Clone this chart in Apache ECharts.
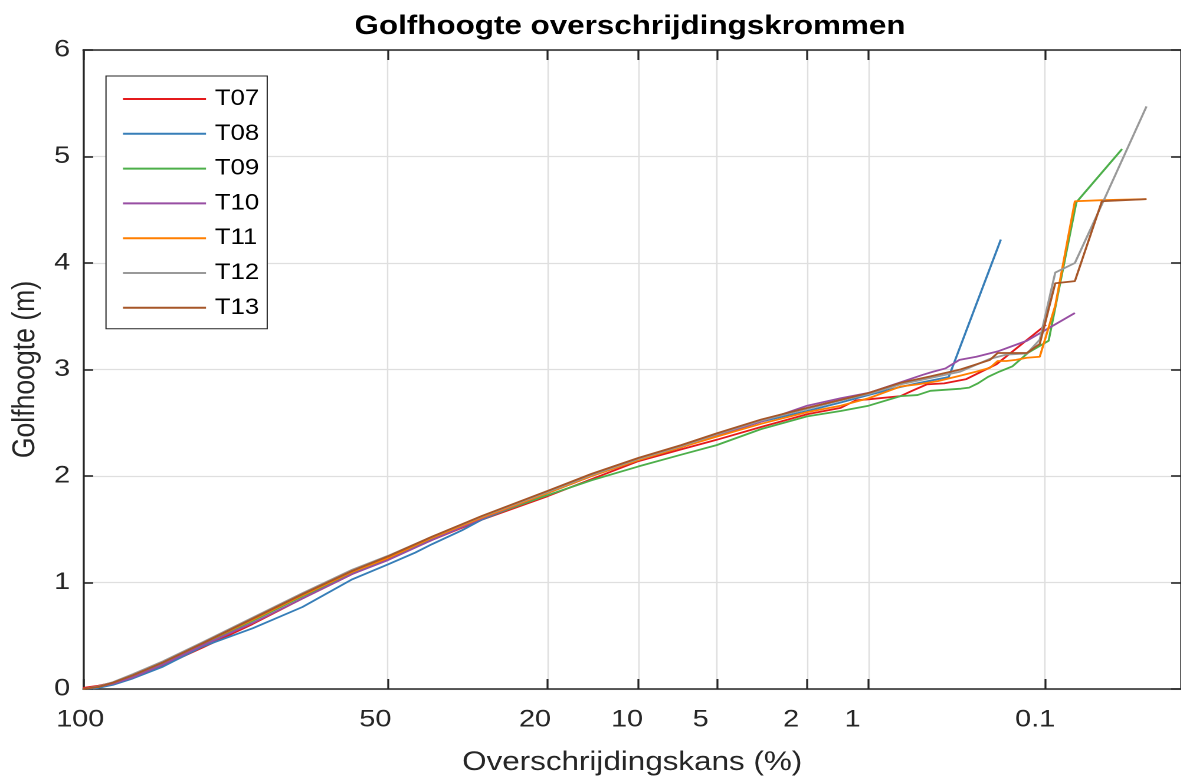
<!DOCTYPE html>
<html>
<head>
<meta charset="utf-8">
<title>Golfhoogte overschrijdingskrommen</title>
<script src="https://cdn.jsdelivr.net/npm/echarts@6/dist/echarts.min.js"></script>
<style>
  html, body { margin: 0; padding: 0; background: #ffffff; overflow: hidden; }
  #stage { width: 1181px; height: 781px; overflow: hidden; }
  /* the figure is laid out narrow and widened with a horizontal stretch */
  #chart { height: 781px; transform-origin: 0 0; }
</style>
</head>
<body>
<div id="stage"><div id="chart"></div></div>
<script>
// Exceedance probability axis (Rayleigh paper): ticks in percent
const tickPercents = [100, 50, 20, 10, 5, 2, 1, 0.1];
const tickLabels = ['100', '50', '20', '10', '5', '2', '1', '0.1'];

const seriesNames = ['T07', 'T08', 'T09', 'T10', 'T11', 'T12', 'T13'];
const seriesColors = ['#E41A1C', '#377EB8', '#4DAF4A', '#984EA3', '#FF7F00', '#999999', '#A65628'];

// [exceedance probability (%), wave height (m)]
const T07 = [[100,0.01],[99.83,0.03],[99.33,0.06],[98.16,0.12],[95.36,0.22],[89.87,0.39],[80.71,0.61],[69.84,0.85],[58.24,1.08],[50,1.22],[40.31,1.40],[30.52,1.59],[20,1.81],[14.53,1.97],[10,2.14],[6.93,2.25],[5,2.34],[3.24,2.46],[2,2.58],[1.38,2.64],[1.162,2.71],[1,2.72],[0.683,2.75],[0.5922,2.80],[0.4935,2.86],[0.3948,2.87],[0.2961,2.91],[0.1974,3.05],[0.0987,3.42]];
const T08 = [[100,0.0],[99.83,0.01],[99.33,0.04],[98.16,0.10],[95.36,0.21],[89.87,0.40],[80.71,0.57],[69.84,0.77],[58.24,1.03],[50,1.17],[43.94,1.28],[40.31,1.36],[34.27,1.49],[30.52,1.59],[20,1.84],[14.53,2.0],[10,2.15],[6.93,2.27],[5,2.38],[3.24,2.51],[2,2.61],[1.38,2.69],[1,2.76],[0.7448,2.82],[0.5586,2.87],[0.3724,2.93],[0.1862,4.22]];
const T09 = [[100,0.0],[99.83,0.02],[99.33,0.05],[98.16,0.12],[95.36,0.24],[89.87,0.42],[80.71,0.64],[69.84,0.87],[58.24,1.09],[50,1.23],[40.31,1.41],[30.52,1.60],[20,1.82],[14.53,1.96],[10,2.09],[6.93,2.20],[5,2.29],[3.24,2.44],[2,2.56],[1.38,2.61],[1,2.66],[0.683,2.75],[0.554,2.76],[0.471,2.80],[0.317,2.82],[0.2853,2.83],[0.2536,2.87],[0.2219,2.93],[0.1902,2.98],[0.1585,3.03],[0.1268,3.16],[0.0951,3.27],[0.0634,4.57],[0.0317,5.07]];
const T10 = [[100,0.0],[99.83,0.02],[99.33,0.05],[98.16,0.11],[95.36,0.23],[89.87,0.41],[80.71,0.62],[69.84,0.85],[58.24,1.08],[50,1.21],[40.31,1.40],[30.52,1.60],[20,1.84],[14.53,2.0],[10,2.16],[6.93,2.27],[5,2.38],[3.24,2.51],[2,2.66],[1.38,2.73],[1,2.78],[0.683,2.88],[0.5184,2.95],[0.4536,2.98],[0.3888,3.01],[0.324,3.09],[0.2592,3.12],[0.1944,3.17],[0.1296,3.27],[0.0648,3.53]];
const T11 = [[100,0.0],[99.83,0.02],[99.33,0.06],[98.16,0.13],[95.36,0.25],[89.87,0.43],[80.71,0.65],[69.84,0.88],[58.24,1.10],[50,1.23],[40.31,1.42],[30.52,1.61],[20,1.84],[14.53,2.0],[10,2.15],[6.93,2.27],[5,2.37],[3.24,2.49],[2,2.60],[1.38,2.66],[1,2.73],[0.683,2.84],[0.554,2.86],[0.432,2.89],[0.324,2.94],[0.2592,2.98],[0.216,3.015],[0.1944,3.08],[0.1728,3.08],[0.1512,3.09],[0.1296,3.11],[0.108,3.12],[0.0864,3.6],[0.0648,4.58],[0.0432,4.59],[0.0216,4.60]];
const T12 = [[100,0.0],[99.83,0.025],[99.33,0.065],[98.16,0.14],[95.36,0.26],[89.87,0.44],[80.71,0.67],[69.84,0.90],[58.24,1.12],[50,1.25],[40.31,1.43],[30.52,1.62],[20,1.85],[14.53,2.01],[10,2.16],[6.93,2.28],[5,2.39],[3.24,2.52],[2,2.63],[1.38,2.71],[1,2.77],[0.683,2.86],[0.471,2.92],[0.32,2.98],[0.216,3.10],[0.1728,3.14],[0.1296,3.15],[0.108,3.28],[0.0864,3.91],[0.0648,4.00],[0.0432,4.55],[0.0216,5.47]];
const T13 = [[100,0.0],[99.83,0.02],[99.33,0.06],[98.16,0.13],[95.36,0.25],[89.87,0.43],[80.71,0.66],[69.84,0.89],[58.24,1.11],[50,1.245],[40.31,1.43],[30.52,1.625],[20,1.86],[14.53,2.02],[10,2.17],[6.93,2.29],[5,2.40],[3.24,2.53],[2,2.64],[1.38,2.715],[1,2.78],[0.683,2.875],[0.471,2.935],[0.32,3.0],[0.216,3.09],[0.1944,3.155],[0.1296,3.155],[0.108,3.24],[0.0864,3.81],[0.0648,3.83],[0.0432,4.58],[0.0216,4.60]];

const seriesData = [T07, T08, T09, T10, T11, T12, T13];

// Rayleigh reduced variate: sqrt(-ln(P))
const rayleigh = p => Math.sqrt(Math.max(0, -Math.log(p / 100)));
const tickValues = tickPercents.map(rayleigh);

// horizontal stretch of the whole figure; sx() turns page pixels into layout pixels
const STRETCH = 1.18;
const PAGE_W = 1181;
const sx = v => v / STRETCH;

const chartEl = document.getElementById('chart');
chartEl.style.width = sx(PAGE_W) + 'px';
chartEl.style.transform = 'scaleX(' + STRETCH + ')';

const FONT = "'Liberation Sans', Arial, Helvetica, sans-serif";
const AXIS_COLOR = '#262626';
const TICK_FONT = 24.4;
const LABEL_FONT = 26.6;
const LEGEND_FONT = 21.8;

// horizontal nudges of the x tick labels (page px, negative = left)
const labelNudge = [-3, -12.5, -12.5, -11.5, -16, -16, -16, -10];
const xRich = {};
labelNudge.forEach((s, i) => {
  const d = sx(s);
  xRich['n' + i] = {
    fontFamily: FONT, fontSize: TICK_FONT, color: AXIS_COLOR,
    padding: [0, Math.max(0, -2 * d), 0, Math.max(0, 2 * d)]
  };
});

function xLabel(value) {
  let best = 0, bestD = Infinity;
  tickValues.forEach((v, i) => {
    const d = Math.abs(v - value);
    if (d < bestD) { bestD = d; best = i; }
  });
  return '{n' + best + '|' + tickLabels[best] + '}';
}

const chart = echarts.init(chartEl, null, { renderer: 'canvas', devicePixelRatio: 2 });

const axisLineStyle = { color: AXIS_COLOR, width: 1.6 };
const gridLineStyle = { color: '#dfdfdf', width: 1.2 };

const option = {
  backgroundColor: '#ffffff',
  animation: false,
  title: {
    text: 'Golfhoogte overschrijdingskrommen',
    left: sx(630),
    top: 13,
    padding: 0,
    textAlign: 'center',
    textStyle: { fontFamily: FONT, fontSize: LABEL_FONT, fontWeight: 'bold', color: '#000000' }
  },
  grid: { left: sx(80), top: 50, width: sx(1101.6), height: 640, containLabel: false },
  legend: {
    orient: 'vertical',
    left: sx(106),
    top: 76,
    data: seriesNames,
    icon: 'rect',
    itemWidth: sx(83),
    itemHeight: 2,
    itemGap: 12.8,
    padding: [12, sx(8), 10, sx(17)],
    borderColor: AXIS_COLOR,
    borderWidth: 1,
    backgroundColor: '#ffffff',
    selectedMode: false,
    textStyle: { fontFamily: FONT, fontSize: LEGEND_FONT, lineHeight: 22, color: '#000000', padding: [0, 0, 0, sx(3)] }
  },
  xAxis: [
    {
      type: 'value', min: 0, max: 3, position: 'bottom',
      axisLine: { show: true, onZero: false, lineStyle: axisLineStyle },
      axisTick: { show: true, inside: true, length: 10, customValues: tickValues, lineStyle: axisLineStyle },
      axisLabel: {
        customValues: tickValues, formatter: xLabel, rich: xRich, margin: 19,
        fontFamily: FONT, fontSize: TICK_FONT, color: AXIS_COLOR
      },
      splitLine: { show: true, lineStyle: gridLineStyle },
      name: 'Overschrijdingskans (%)',
      nameLocation: 'middle',
      nameGap: 60,
      nameTextStyle: { fontFamily: FONT, fontSize: LABEL_FONT, color: AXIS_COLOR }
    },
    {
      type: 'value', min: 0, max: 3, position: 'top',
      axisLine: { show: true, onZero: false, lineStyle: axisLineStyle },
      axisTick: { show: true, inside: true, length: 10, customValues: tickValues, lineStyle: axisLineStyle },
      axisLabel: { show: false },
      splitLine: { show: false }
    }
  ],
  yAxis: [
    {
      type: 'value', min: 0, max: 6, interval: 1, position: 'left',
      axisLine: { show: true, onZero: false, lineStyle: axisLineStyle },
      axisTick: { show: true, inside: true, length: sx(10), lineStyle: axisLineStyle },
      axisLabel: { margin: sx(13), fontFamily: FONT, fontSize: TICK_FONT, color: AXIS_COLOR },
      splitLine: { show: true, lineStyle: gridLineStyle },
      name: 'Golfhoogte (m)',
      nameLocation: 'middle',
      nameRotate: 90,
      nameGap: 29,
      nameTextStyle: { fontFamily: FONT, fontSize: LABEL_FONT, color: AXIS_COLOR }
    },
    {
      type: 'value', min: 0, max: 6, interval: 1, position: 'right',
      axisLine: { show: true, onZero: false, lineStyle: axisLineStyle },
      axisTick: { show: true, inside: true, length: sx(10), lineStyle: axisLineStyle },
      axisLabel: { show: false },
      splitLine: { show: false }
    }
  ],
  series: seriesNames.map((name, i) => ({
    name: name,
    type: 'line',
    xAxisIndex: 0,
    yAxisIndex: 0,
    symbol: 'none',
    showSymbol: false,
    silent: true,
    clip: true,
    lineStyle: { color: seriesColors[i], width: 1.8 },
    itemStyle: { color: seriesColors[i] },
    emphasis: { disabled: true },
    data: seriesData[i].map(([p, h]) => [rayleigh(p), h])
  }))
};

chart.setOption(option);
</script>
</body>
</html>
